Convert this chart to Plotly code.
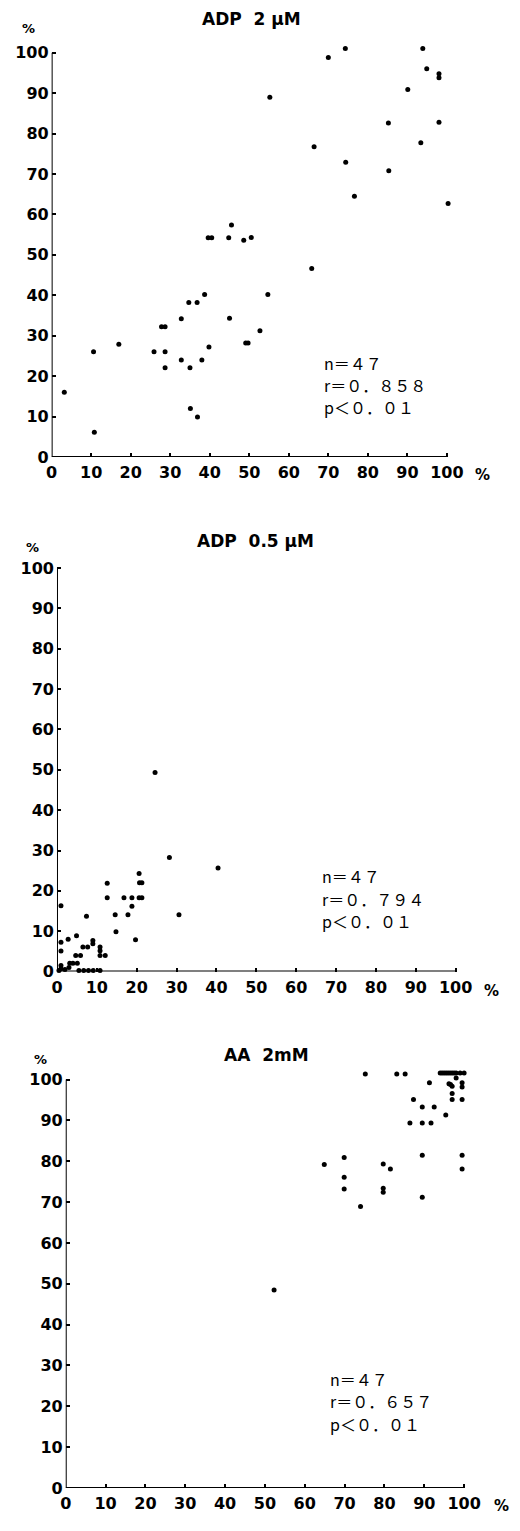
import plotly.graph_objects as go

W, H = 520, 1531

# ---- data ----
adp2_x = [55.2, 70.0, 74.3, 93.9, 94.9, 98.0, 98.0, 90.1, 85.2, 98.0, 66.4, 93.4, 74.4, 85.3, 76.6,
          100.3, 45.5, 39.6, 40.5, 44.8, 48.6, 50.5, 65.8, 38.7, 54.7, 34.7, 36.8, 32.8, 45.0, 27.8,
          28.7, 52.7, 17.0, 49.1, 49.7, 39.8, 10.6, 25.9, 28.7, 32.8, 38.0, 28.7, 35.0, 3.2, 35.1,
          36.9, 10.8]
adp2_y = [89.0, 98.8, 101.0, 101.0, 96.0, 94.8, 93.8, 90.9, 82.6, 82.8, 76.7, 77.7, 72.9, 70.8, 64.5,
          62.7, 57.4, 54.2, 54.2, 54.2, 53.6, 54.3, 46.6, 40.2, 40.2, 38.2, 38.2, 34.2, 34.3, 32.2,
          32.2, 31.2, 27.9, 28.2, 28.2, 27.2, 26.0, 26.0, 26.0, 24.0, 24.0, 22.1, 22.1, 16.0, 12.0,
          9.9, 6.1]

adp05_x = [24.6, 28.2, 40.4, 30.6, 12.6, 12.6, 20.6, 20.7, 21.3, 20.6, 21.3, 16.8, 18.8, 17.8, 18.8,
           14.6, 14.8, 19.7, 7.4, 1.0, 1.0, 1.0, 2.8, 4.9, 6.5, 7.7, 9.0, 9.0, 10.8, 10.8,
           10.8, 12.1, 4.7, 5.9, 3.2, 4.0, 5.1, 1.0, 0.5, 5.5, 6.7, 7.9, 9.1, 10.8, 3.0,
           2.0, 1.0]
adp05_y = [49.3, 28.3, 25.7, 14.1, 21.9, 18.3, 24.3, 22.0, 22.0, 18.3, 18.3, 18.3, 18.3, 14.1, 16.2,
           14.1, 9.9, 7.9, 13.7, 16.3, 7.3, 5.1, 8.0, 8.9, 6.1, 6.1, 7.7, 6.9, 6.1, 5.2,
           4.0, 4.0, 4.0, 4.0, 2.1, 2.1, 2.1, 0.7, 0.3, 0.3, 0.3, 0.3, 0.3, 0.3, 1.0,
           0.5, 1.5]

aa_x = [75.2, 83.1, 85.2, 94.0, 95.0, 96.0, 97.0, 98.0, 99.0, 100.0, 98.0, 91.3, 96.2, 97.0, 99.5,
        99.5, 97.0, 97.0, 99.5, 87.3, 89.5, 92.5, 95.4, 86.4, 89.5, 91.7, 89.5, 99.5, 79.7, 81.5,
        99.5, 79.7, 79.7, 89.5, 64.9, 69.9, 69.9, 69.9, 74.0, 52.3, 96.6, 94.5, 95.5, 96.5, 97.5]
aa_y = [101.4, 101.4, 101.4, 101.6, 101.6, 101.6, 101.6, 101.6, 101.6, 101.6, 100.4, 99.2, 99.0, 98.4, 99.2,
        98.2, 96.6, 95.1, 95.1, 95.1, 93.3, 93.3, 91.3, 89.4, 89.4, 89.4, 81.5, 81.5, 79.3, 78.1,
        78.1, 73.4, 72.4, 71.2, 79.2, 80.9, 76.1, 73.2, 68.9, 48.5, 98.8, 101.6, 101.6, 101.6, 101.6]

titles = ["ADP\u00a0\u00a02\u00a0\u03bcM", "ADP\u00a0\u00a00.5\u00a0\u03bcM", "AA\u00a0\u00a02mM"]
stats = [
    ["n\uff1d\uff14\uff17", "r\uff1d\uff10\uff0e\uff18\uff15\uff18", "p\uff1c\uff10\uff0e\uff10\uff11"],
    ["n\uff1d\uff14\uff17", "r\uff1d\uff10\uff0e\uff17\uff19\uff14", "p\uff1c\uff10\uff0e\uff10\uff11"],
    ["n\uff1d\uff14\uff17", "r\uff1d\uff10\uff0e\uff16\uff15\uff17", "p\uff1c\uff10\uff0e\uff10\uff11"],
]
tick_vals = [0, 10, 20, 30, 40, 50, 60, 70, 80, 90, 100]
X_MAX, Y_MAX = 102.0, 103.0   # small headroom so dots just past 100 stay visible

# ---- layout geometry (pixels) ----
panels = [
    dict(x0=47, x1=454, y0=460, y1=53, title=(253, 19), pct=(23, 29), xpct=(491, 478),
         stat=(325, 365)),
    dict(x0=52.5, x1=463, y0=978, y1=571.7, title=(257, 545), pct=(27, 551), xpct=(500, 998),
         stat=(323, 882)),
    dict(x0=61.5, x1=471.7, y0=1497.7, y1=1086.7, title=(268, 1062), pct=(36, 1066), xpct=(510, 1516),
         stat=(332, 1388)),
]
data = [(adp2_x, adp2_y), (adp05_x, adp05_y), (aa_x, aa_y)]

def fx(px):
    return px / W

def fy(py):
    return 1 - py / H

fig = go.Figure()
tickfont = dict(family="DejaVu Sans", size=16, color="black", weight="bold")
annotations = []
shapes = []
for i, (p, (xs, ys)) in enumerate(zip(panels, data)):
    sfx = "" if i == 0 else str(i + 1)
    xa, ya = "x" + sfx, "y" + sfx
    fig.add_trace(go.Scatter(x=xs, y=ys, mode="markers", xaxis=xa, yaxis=ya,
                             marker=dict(size=5, color="black"), cliponaxis=False,
                             showlegend=False, hoverinfo="skip"))
    axcommon = dict(tickvals=tick_vals, showline=False,
                    ticks="inside", ticklen=4, tickwidth=1.5, tickcolor="black",
                    showgrid=False, zeroline=False, tickfont=tickfont, fixedrange=True)
    x_end = p["x0"] + (p["x1"] - p["x0"]) * X_MAX / 100
    y_end = p["y0"] - (p["y0"] - p["y1"]) * Y_MAX / 100
    fig.update_layout(**{
        "xaxis" + sfx: dict(domain=[fx(p["x0"]), fx(x_end)], anchor=ya, range=[0, X_MAX],
                            ticklabelstandoff=4, **axcommon),
        "yaxis" + sfx: dict(domain=[fy(p["y0"]), fy(y_end)], anchor=xa, range=[0, Y_MAX],
                            ticklabelstandoff=2, **axcommon),
    })
    # axis lines spanning 0..100
    shapes.append(dict(type="line", xref=xa, yref=ya, x0=tick_vals[0], x1=tick_vals[-1],
                       y0=tick_vals[0], y1=tick_vals[0], line=dict(color="black", width=2)))
    shapes.append(dict(type="line", xref=xa, yref=ya, x0=tick_vals[0], x1=tick_vals[0],
                       y0=tick_vals[0], y1=tick_vals[-1], line=dict(color="black", width=2)))
    annotations.append(dict(text=titles[i], x=fx(p["title"][0]), y=fy(p["title"][1]),
                            xref="paper", yref="paper", showarrow=False, xanchor="center",
                            yanchor="middle",
                            font=dict(family="DejaVu Sans", size=17, color="black", weight="bold")))
    annotations.append(dict(text="%", x=fx(p["pct"][0]), y=fy(p["pct"][1]),
                            xref="paper", yref="paper", showarrow=False, xanchor="center",
                            yanchor="middle",
                            font=dict(family="DejaVu Sans", size=13, color="black", weight="bold")))
    annotations.append(dict(text="%", x=fx(p["xpct"][0]), y=fy(p["xpct"][1]),
                            xref="paper", yref="paper", showarrow=False, xanchor="center",
                            yanchor="middle",
                            font=dict(family="DejaVu Sans", size=15, color="black", weight="bold")))
    for k, line in enumerate(stats[i]):
        annotations.append(dict(text=line, x=fx(p["stat"][0]), y=fy(p["stat"][1] + 22.5 * k),
                                xref="paper", yref="paper", showarrow=False, xanchor="left",
                                yanchor="middle",
                                font=dict(family="Noto Sans CJK JP", size=16, color="black")))

fig.update_layout(width=W, height=H, margin=dict(l=0, r=0, t=0, b=0),
                  paper_bgcolor="white", plot_bgcolor="white", annotations=annotations,
                  shapes=shapes, showlegend=False)
fig.write_html("out.html")
